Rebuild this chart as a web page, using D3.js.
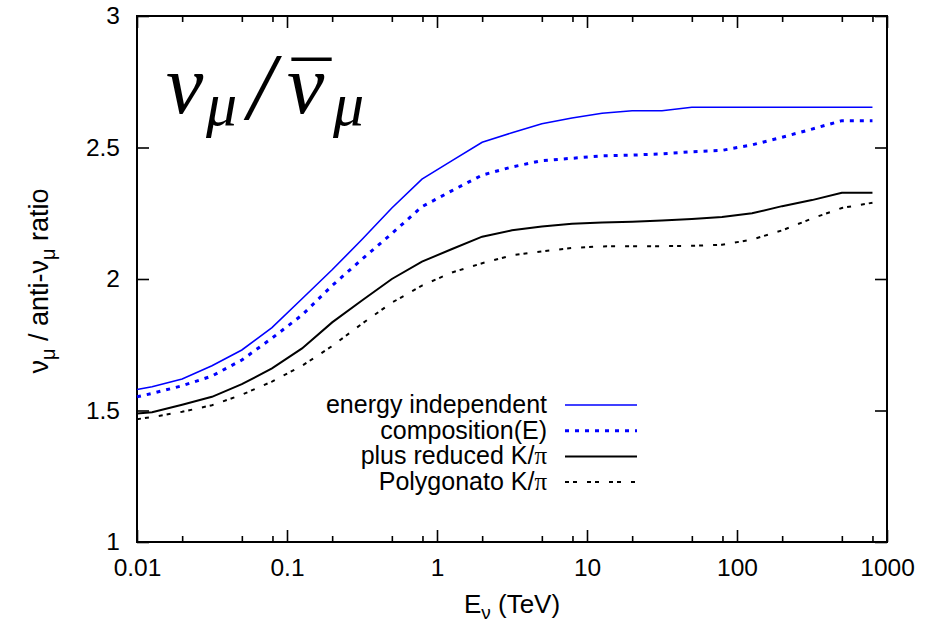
<!DOCTYPE html>
<html>
<head>
<meta charset="utf-8">
<script src="https://cdn.jsdelivr.net/npm/d3@7"></script>
<style>
  body { margin: 0; background: #fff; }
  svg { display: block; }
</style>
</head>
<body>
<svg id="chart" width="939" height="622" font-family="'Liberation Sans', Arial, sans-serif"></svg>
<script>
// energies in TeV
const energies = [0.01, 0.0126, 0.02, 0.0316, 0.05, 0.0794, 0.126, 0.2, 0.316, 0.5, 0.794, 1.26, 2, 3.16, 5, 7.94, 12.6, 20, 31.6, 50, 79.4, 126, 200, 316, 500, 800];

const energyIndependent = [1.58, 1.59, 1.62, 1.67, 1.73, 1.815, 1.925, 2.035, 2.15, 2.27, 2.38, 2.45, 2.52, 2.556, 2.59, 2.612, 2.63, 2.64, 2.64, 2.653, 2.653, 2.653, 2.653, 2.653, 2.653, 2.653];
const compositionE = [1.552, 1.565, 1.594, 1.631, 1.692, 1.775, 1.863, 1.975, 2.075, 2.173, 2.275, 2.336, 2.395, 2.426, 2.45, 2.459, 2.468, 2.471, 2.476, 2.484, 2.489, 2.51, 2.539, 2.57, 2.602, 2.602];
const reducedK = [1.489, 1.493, 1.522, 1.552, 1.6, 1.66, 1.736, 1.835, 1.918, 2.0, 2.066, 2.114, 2.161, 2.185, 2.2, 2.21, 2.215, 2.218, 2.222, 2.228, 2.236, 2.25, 2.277, 2.3, 2.328, 2.328];
const polygonato = [1.467, 1.475, 1.495, 1.52, 1.56, 1.61, 1.67, 1.745, 1.83, 1.91, 1.975, 2.025, 2.06, 2.09, 2.105, 2.118, 2.124, 2.125, 2.125, 2.126, 2.13, 2.15, 2.185, 2.23, 2.27, 2.29];

const xMajorTicks = [0.01, 0.1, 1, 10, 100, 1000];
const xTickLabels = ["0.01", "0.1", "1", "10", "100", "1000"];
const xMinorTicks = [0.02, 0.05, 0.08, 0.2, 0.5, 0.8, 2, 5, 8, 20, 50, 80, 200, 500, 800];
const yTicks = [1, 1.5, 2, 2.5, 3];
const yTickLabels = ["1", "1.5", "2", "2.5", "3"];

const series = [
  { label: "energy independent", values: energyIndependent, color: "#0000ff", width: 1.6, dash: null },
  { label: "composition(E)", values: compositionE, color: "#0000ff", width: 3, dash: "4,6" },
  { label: "plus reduced K/", pi: true, values: reducedK, color: "#000", width: 2, dash: null },
  { label: "Polygonato K/", pi: true, values: polygonato, color: "#000", width: 2, dash: "4,4,4,10" }
];

const svg = d3.select("#chart");
const plotLeft = 137, plotRight = 887, plotTop = 16, plotBottom = 542;

const x = d3.scaleLog().domain([0.01, 1000]).range([plotLeft, plotRight]);
const y = d3.scaleLinear().domain([1, 3]).range([plotBottom, plotTop]);

// axes, ticks pointing inward
svg.append("g").attr("transform", `translate(0,${plotBottom})`)
  .call(d3.axisBottom(x).tickValues(xMajorTicks).tickSize(-12).tickPadding(17)
    .tickFormat((d, i) => xTickLabels[i]));
svg.append("g").attr("transform", `translate(0,${plotBottom})`)
  .call(d3.axisBottom(x).tickValues(xMinorTicks).tickSize(-6).tickFormat(""));
svg.append("g").attr("transform", `translate(0,${plotTop})`)
  .call(d3.axisTop(x).tickValues(xMajorTicks).tickSize(-12).tickFormat(""));
svg.append("g").attr("transform", `translate(0,${plotTop})`)
  .call(d3.axisTop(x).tickValues(xMinorTicks).tickSize(-6).tickFormat(""));
svg.append("g").attr("transform", `translate(${plotLeft},0)`)
  .call(d3.axisLeft(y).tickValues(yTicks).tickSize(-12).tickPadding(17)
    .tickFormat((d, i) => yTickLabels[i]));
svg.append("g").attr("transform", `translate(${plotRight},0)`)
  .call(d3.axisRight(y).tickValues(yTicks).tickSize(-12).tickFormat(""));

svg.selectAll(".domain").remove();
svg.selectAll(".tick line").attr("stroke", "#000").attr("stroke-width", 1.6);
svg.selectAll(".tick text")
  .attr("font-family", "'Liberation Sans', Arial, sans-serif")
  .attr("font-size", 24.5)
  .attr("fill", "#000");

// frame
svg.append("rect")
  .attr("x", plotLeft).attr("y", plotTop)
  .attr("width", plotRight - plotLeft).attr("height", plotBottom - plotTop)
  .attr("fill", "none").attr("stroke", "#000").attr("stroke-width", 2);

// curves
const line = d3.line().x((d, i) => x(energies[i])).y(d => y(d));
series.forEach(s => {
  svg.append("path")
    .attr("d", line(s.values))
    .attr("fill", "none")
    .attr("stroke", s.color)
    .attr("stroke-width", s.width)
    .attr("stroke-dasharray", s.dash);
});

// legend
const legX = 547, legY = 405, legStep = 25.7;
series.forEach((s, i) => {
  const ly = legY + i * legStep;
  const t = svg.append("text")
    .attr("x", legX).attr("y", ly + 8)
    .attr("text-anchor", "end")
    .attr("font-size", 25)
    .text(s.label);
  if (s.pi) {
    t.append("tspan").attr("font-family", "'Liberation Serif', serif").text("π");
  }
  svg.append("line")
    .attr("x1", 565).attr("x2", 637)
    .attr("y1", ly).attr("y2", ly)
    .attr("stroke", s.color)
    .attr("stroke-width", s.width)
    .attr("stroke-dasharray", s.dash);
});

// axis titles
const xt = svg.append("text")
  .attr("x", (plotLeft + plotRight) / 2).attr("y", 613)
  .attr("text-anchor", "middle")
  .attr("font-size", 26);
xt.append("tspan").text("E");
xt.append("tspan").attr("font-size", 19).attr("dy", 6).text("ν");
xt.append("tspan").attr("dy", -6).text(" (TeV)");

const yt = svg.append("text")
  .attr("transform", "translate(48,281) rotate(-90)")
  .attr("text-anchor", "middle")
  .attr("font-size", 27);
yt.append("tspan").text("ν");
yt.append("tspan").attr("font-size", 20).attr("dy", 7).text("μ");
yt.append("tspan").attr("dy", -7).text(" / anti-ν");
yt.append("tspan").attr("font-size", 20).attr("dy", 7).text("μ");
yt.append("tspan").attr("dy", -7).text(" ratio");

// big title, bar of the antineutrino kept in the same text
const title = svg.append("text")
  .attr("y", 113)
  .attr("font-family", "'Liberation Serif', 'DejaVu Serif', serif")
  .attr("font-style", "italic")
  .attr("font-size", 84);
title.append("tspan").attr("x", 166).text("ν");
title.append("tspan").attr("x", 206).attr("font-size", 62).attr("dy", 12).text("μ");
title.append("tspan").attr("x", 248).attr("dy", -6).attr("font-size", 96).text("/");
title.append("tspan").attr("x", 287).attr("dy", -6).text("ν");
title.append("tspan").attr("x", 292).attr("dy", 4).attr("font-size", 78)
  .attr("font-style", "normal").text("\u00AF");
title.append("tspan").attr("x", 333).attr("font-size", 62).attr("dy", 8).text("μ");
</script>
</body>
</html>
